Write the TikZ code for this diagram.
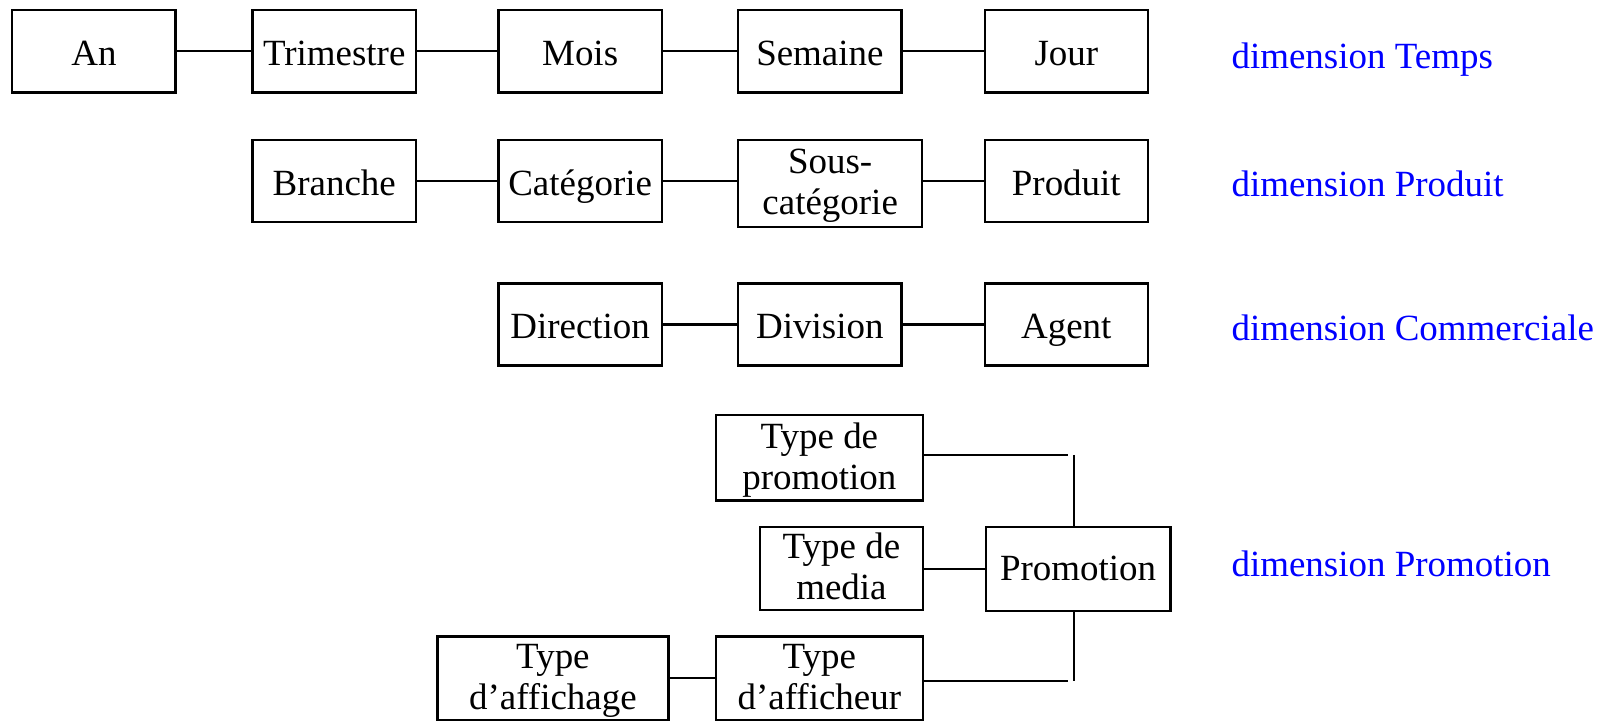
\documentclass[tikz,border=0pt]{standalone}
\usepackage{fontspec}
\setmainfont{Liberation Serif}
\newcommand{\twolines}[4]{\rule{0pt}{#3}#1\\#2\rule[-#4]{0pt}{#4}}
\begin{document}
\begin{tikzpicture}[x=0.5pt,y=-0.5pt,
  lvl/.style={draw, line width=1.1pt, inner sep=0pt, minimum width=79.5pt, minimum height=40pt,
    align=center, font=\fontsize{18}{20}\selectfont},
  oneline/.style={text height=13.6pt, text depth=0pt},
  dimlabel/.style={anchor=base west, inner sep=0pt, text=blue, font=\fontsize{18}{20}\selectfont},
  link/.style={line width=1pt}]
\useasboundingbox (0,0) rectangle (1568,703);
% row 1
\node[lvl, oneline] (an) at (91.5,50) {An};
\node[lvl, oneline] (tri) at (325.5,50) {Trimestre};
\node[lvl, oneline] (mois) at (565,50) {Mois};
\node[lvl, oneline] (sem) at (798.5,50) {Semaine};
\node[lvl, oneline] (jour) at (1038.5,50) {Jour};
\node[dimlabel] (dtemps) at (1199,66.5) {dimension Temps};
% row 2
\node[lvl, oneline] (bra) at (325.5,176.5) {Branche};
\node[lvl, oneline] (cat) at (565,176.5) {Catégorie};
\node[lvl, minimum width=89.5pt, minimum height=42.5pt] (scat) at (808.5,178.5) {\twolines{Sous-}{catégorie}{15.2pt}{5pt}};
\node[lvl, oneline] (prod) at (1038.5,176.5) {Produit};
\node[dimlabel] (dprod) at (1199,191.5) {dimension Produit};
% row 3
\node[lvl, oneline] (dir) at (565,316) {Direction};
\node[lvl, oneline] (div) at (798.5,316) {Division};
\node[lvl, oneline] (agent) at (1038.5,316) {Agent};
\node[dimlabel] (dcom) at (1199,331.5) {dimension Commerciale};
% row 4
\node[lvl, minimum width=101pt, minimum height=41.5pt] (tpromo) at (798,446) {\twolines{Type de}{promotion}{15.6pt}{5pt}};
\node[lvl, minimum width=79.5pt, minimum height=40.5pt] (tmedia) at (819.5,553.5) {\twolines{Type de}{media}{15.2pt}{5pt}};
\node[lvl, minimum width=90pt, minimum height=41pt] (promo) at (1050,554) {Promotion};
\node[lvl, minimum width=112.5pt, minimum height=40.5pt] (taffichage) at (538.5,660.5) {\twolines{Type}{d’affichage}{15.2pt}{5pt}};
\node[lvl, minimum width=101pt, minimum height=40.5pt] (tafficheur) at (798,660.5) {\twolines{Type}{d’afficheur}{15.2pt}{5pt}};
\node[dimlabel] (dpromo) at (1199,561) {dimension Promotion};
% connectors
\draw[link] (an.east) -- (tri.west);
\draw[link] (tri.east) -- (mois.west);
\draw[link] (mois.east) -- (sem.west);
\draw[link] (sem.east) -- (jour.west);
\draw[link] (bra.east) -- (cat.west);
\draw[link] (cat.east) -- (cat.east -| scat.west);
\draw[link] (scat.east |- prod.west) -- (prod.west);
\draw[link] (dir.east) -- (div.west);
\draw[link] (div.east) -- (agent.west);
\coordinate (j1) at (1040,443);
\coordinate (v1) at (1046,443);
\coordinate (j2) at (1040,663);
\coordinate (v2) at (1046,663);
\draw[link] (tpromo.east |- j1) -- (j1);
\draw[link] (v1) -- (v1 |- promo.north);
\draw[link] (tmedia.east |- promo.west) -- (promo.west);
\draw[link] (tafficheur.east |- j2) -- (j2);
\draw[link] (v2 |- promo.south) -- (v2);
\draw[link] (taffichage.east) -- (tafficheur.west);
\end{tikzpicture}
\end{document}
